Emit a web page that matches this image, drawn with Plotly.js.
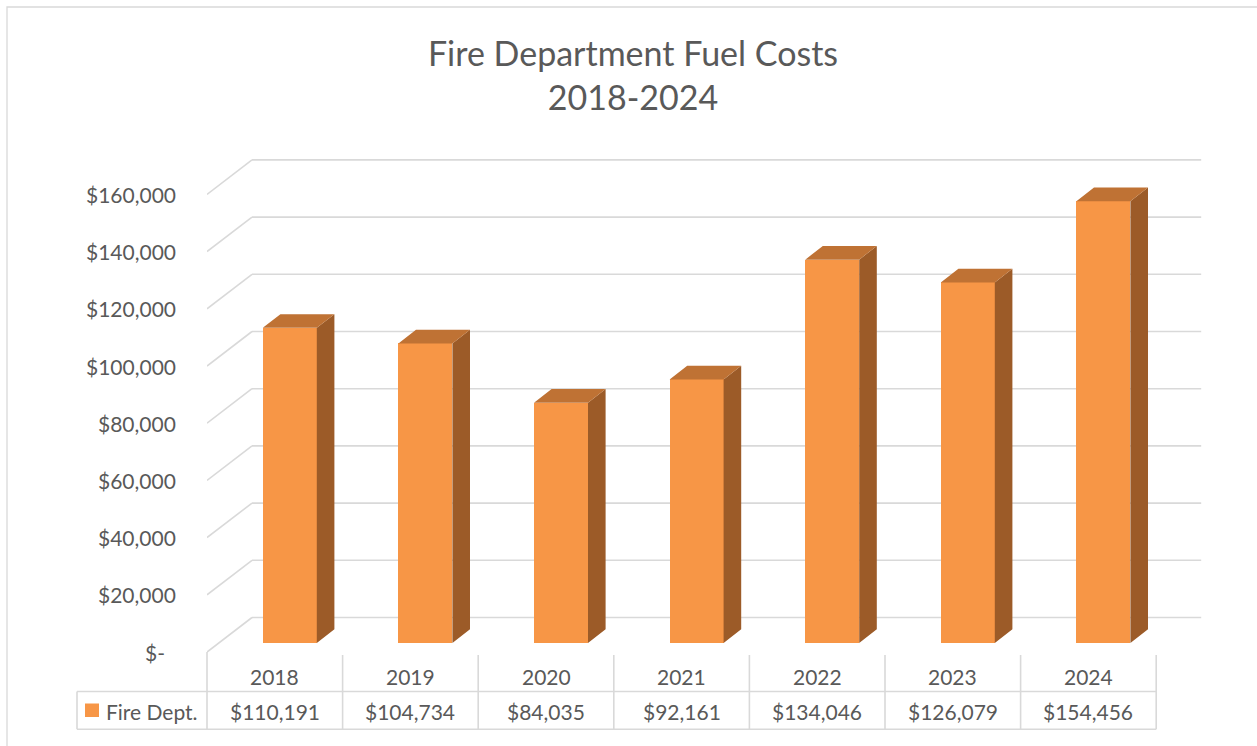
<!DOCTYPE html>
<html><head><meta charset="utf-8">
<script src="https://cdn.plot.ly/plotly-3.0.1.min.js"></script>
<style>body{margin:0;background:#fff}#chart{width:1257px;height:746px}</style>
</head><body><div id="chart"></div>
<script>
// ---- data ----
const categories = ['2018','2019','2020','2021','2022','2023','2024'];
const fuelCosts = [110191,104734,84035,92161,134046,126079,154456];
const valueLabels = ['$110,191','$104,734','$84,035','$92,161','$134,046','$126,079','$154,456'];
const tickValues = [0,20000,40000,60000,80000,100000,120000,140000,160000];
const tickLabels = ['$-','$20,000','$40,000','$60,000','$80,000','$100,000','$120,000','$140,000','$160,000'];
const seriesName = 'Fire Dept.';
const titleText = 'Fire Department Fuel Costs<br>2018-2024';

// ---- geometry / style ----
const W=1257,H=746, ML=207, MR=53, MT=140, MB=91;
const PXU=135.6, K=0.00286;
const plotW=W-ML-MR, plotH=H-MT-MB;
const xRange=[-0.5, -0.5+plotW/PXU];
const y0px=652;
const yRange=[-(H-MB-y0px)/K, (y0px-MT)/K];
const DX=45/PXU, DY=34.5/K;          // wall depth
const BSX=15/PXU, BSY=9/K;           // bar front-face offset
const BW=54/PXU, BDX=17.6/PXU, BDY=13.7/K; // bar width & depth
const FONT='Lato, "Open Sans", sans-serif', TXT='#595959', GRID='#d9d9d9';
const C_FRONT='#F79646', C_TOP='#BF7234', C_SIDE='#9C5B28';
const py=p=>(H-MB-p)/plotH;           // pixel y -> paper
const pxX=p=>(p-ML)/plotW;            // pixel x -> paper
const dX=x=>(x-xRange[0])/(xRange[1]-xRange[0]); // data x -> paper
const n=categories.length;

const xs=categories.map((c,i)=>i+BSX);

const topX=[],topY=[],sideX=[],sideY=[];
fuelCosts.forEach((v,i)=>{
  const x0=xs[i]-BW/2, x1=xs[i]+BW/2, t=BSY+v, b=BSY;
  topX.push(x0,x1,x1+BDX,x0+BDX,x0,null);
  topY.push(t,t,t+BDY,t+BDY,t,null);
  sideX.push(x1,x1,x1+BDX,x1+BDX,x1,null);
  sideY.push(b,t,t+BDY,b+BDY,b,null);
});

const traces=[
 {type:'scatter',x:sideX,y:sideY,mode:'lines',fill:'toself',fillcolor:C_SIDE,line:{width:0,color:C_SIDE},hoverinfo:'skip',showlegend:false,connectgaps:false},
 {type:'scatter',x:topX,y:topY,mode:'lines',fill:'toself',fillcolor:C_TOP,line:{width:0,color:C_TOP},hoverinfo:'skip',showlegend:false,connectgaps:false},
 {type:'bar',name:seriesName,x:xs,y:fuelCosts,base:fuelCosts.map(()=>BSY),width:BW,
  marker:{color:C_FRONT,line:{width:0}},customdata:categories,
  hovertemplate:'%{customdata}: $%{y:,}<extra></extra>',showlegend:false}
];

const shapes=[];
// chart border
shapes.push({type:'rect',xref:'paper',yref:'paper',x0:pxX(7),x1:pxX(1262),y0:py(7),y1:py(752),line:{color:GRID,width:1.3},layer:'below'});
// walls gridlines
tickValues.forEach(v=>{
  shapes.push({type:'line',xref:'x',yref:'y',x0:-0.5+DX,x1:n-0.5+DX,y0:v+DY,y1:v+DY,line:{color:GRID,width:1.6},layer:'below'});
  shapes.push({type:'line',xref:'x',yref:'y',x0:-0.5,x1:-0.5+DX,y0:v,y1:v+DY,line:{color:GRID,width:1.6},layer:'below'});
});
// data table lines
const tTop=655, tMid=691.5, tBot=729.3, legL=77;
shapes.push({type:'line',xref:'paper',yref:'paper',x0:pxX(legL),x1:dX(n-0.5),y0:py(tMid),y1:py(tMid),line:{color:GRID,width:1.6}});
shapes.push({type:'line',xref:'paper',yref:'paper',x0:pxX(legL),x1:dX(n-0.5),y0:py(tBot),y1:py(tBot),line:{color:GRID,width:1.6}});
shapes.push({type:'line',xref:'paper',yref:'paper',x0:pxX(legL),x1:pxX(legL),y0:py(tMid),y1:py(tBot),line:{color:GRID,width:1.6}});
for(let k=0;k<=n;k++){
  shapes.push({type:'line',xref:'paper',yref:'paper',x0:dX(k-0.5),x1:dX(k-0.5),y0:py(k===0?y0px:tTop),y1:py(tBot),line:{color:GRID,width:1.6}});
}
// legend key
shapes.push({type:'rect',xref:'paper',yref:'paper',x0:pxX(85),x1:pxX(99),y0:py(703.5),y1:py(717),fillcolor:C_FRONT,line:{width:0}});

const annotations=[];
tickValues.forEach((v,i)=>{
  annotations.push({xref:'paper',yref:'y',x:0,y:v,xanchor:'right',yanchor:'middle',xshift:(v===0?-40:-29),
    text:tickLabels[i],showarrow:false,font:{family:FONT,size:21,color:TXT}});
});
categories.forEach((c,i)=>{
  annotations.push({xref:'x',yref:'paper',x:i,y:py(676),xanchor:'center',yanchor:'middle',text:c,showarrow:false,font:{family:FONT,size:21,color:TXT}});
  annotations.push({xref:'x',yref:'paper',x:i,y:py(711),xanchor:'center',yanchor:'middle',text:valueLabels[i],showarrow:false,font:{family:FONT,size:21,color:TXT}});
});
annotations.push({xref:'paper',yref:'paper',x:pxX(104),y:py(711),xanchor:'left',yanchor:'middle',text:seriesName,showarrow:false,font:{family:FONT,size:21,color:TXT}});

const layout={
  width:W,height:H,margin:{l:ML,r:MR,t:MT,b:MB},
  paper_bgcolor:'#ffffff',plot_bgcolor:'rgba(0,0,0,0)',
  title:{text:titleText,font:{family:FONT,size:34,color:TXT},xref:'container',yref:'container',x:633/W,xanchor:'center',y:1-66/H,yanchor:'top'},
  xaxis:{range:xRange,showgrid:false,zeroline:false,showticklabels:false,ticks:'',fixedrange:true},
  yaxis:{range:yRange,showgrid:false,zeroline:false,showticklabels:false,ticks:'',fixedrange:true},
  shapes:shapes,annotations:annotations,showlegend:false,bargap:0
};
Plotly.newPlot('chart',traces,layout,{displayModeBar:false,staticPlot:false});
</script></body></html>
